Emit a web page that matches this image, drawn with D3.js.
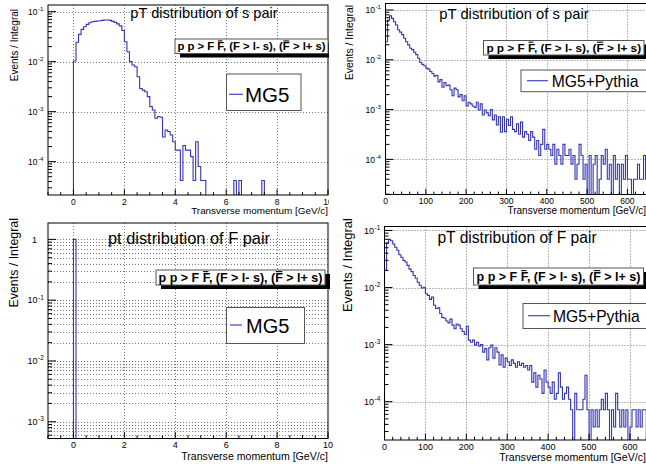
<!DOCTYPE html>
<html>
<head>
<meta charset="utf-8">
<script src="https://cdn.jsdelivr.net/npm/d3@7"></script>
<style>
body { margin: 0; background: #fff; }
text { font-family: "Liberation Sans", Arial, sans-serif; }
</style>
</head>
<body>
<div id="container"></div>
<script>
/* DATA */
// MG5, pT of s pair: bins of 0.1 GeV starting at 0
const sPairMG5 = [
  0.0103, 0.0244, 0.0352, 0.0443, 0.050, 0.0558, 0.060, 0.063, 0.064, 0.065,
  0.066, 0.067, 0.068, 0.068, 0.067, 0.064, 0.061, 0.057, 0.052, 0.042,
  0.0251, 0.0158, 0.0100, 0.0086, 0.0079, 0.0050, 0.0029, 0.0027, 0.0025, 0.0020,
  0.00126, 0.00108, 0.00074, 0.0008, 0.00077, 0.00031, 0.00043, 0.0004, 0.00034, 0.00025,
  0.00017, 0.00017, 0.000042, 0.00021, 0.00017, 0.00017, 0.000126, 0.000042, 0.00025, 0.00008,
  0.000042, 0.000042, 0, 0, 0, 0, 0, 0, 0, 0,
  0, 0, 0, 0.000042, 0, 0.000042, 0, 0, 0, 0,
  0, 0, 0, 0, 0.000042
];
// MG5, pt of F pair: one bin 0-0.1 GeV
const fPairMG5 = [1];
// MG5+Pythia, pT of s pair: bins of 5 GeV starting at 0
const sPairPythia = [
  0.023, 0.063, 0.076, 0.068, 0.058, 0.050, 0.040, 0.036, 0.032, 0.027,
  0.023, 0.0199, 0.017, 0.016, 0.0142, 0.0127, 0.0107, 0.0088, 0.0081, 0.0076,
  0.0068, 0.0065, 0.0058, 0.0053, 0.0047, 0.0049, 0.0036, 0.0040, 0.0028, 0.0035,
  0.0030, 0.0031, 0.0025, 0.0019, 0.0027, 0.0025, 0.0018, 0.0020, 0.0015, 0.0019,
  0.00118, 0.0014, 0.0013, 0.00118, 0.0011, 0.0014, 0.00098, 0.0013, 0.00078, 0.00098,
  0.00086, 0.00075, 0.001, 0.00062, 0.00078, 0.00049, 0.00072, 0.00035, 0.00072, 0.00036,
  0.00064, 0.00048, 0.00072, 0.0004, 0.00036, 0.00052, 0.00032, 0.00056, 0.00028, 0.00036,
  0.00032, 0.00024, 0.00036, 0.00028, 0.00016, 0.00024, 0.00012, 0.0002, 0.0004, 0.00016,
  0.0002, 0.00016, 0.00012, 0.0002, 0.00008, 0.00016, 0.00012, 0.00008, 0.0002, 0.00012,
  0.00012, 0.00016, 0.00008, 0.00012, 0.00004, 0.00008, 0.0002, 0.00012, 0.00004, 0.00008,
  0, 0.00012, 0, 0.00008, 0.00012, 0, 0.00004, 0.00012, 0.00008, 0.00016,
  0.00004, 0.00008, 0, 0.00012, 0.00004, 0.00008, 0, 0.00008, 0.00004, 0.00012,
  0.00004, 0.00004, 0, 0.00004, 0.00004, 0.00008, 0.00004, 0.00004, 0.00012, 0.00004
];
// MG5+Pythia, pT of F pair: bins of 5 GeV starting at 0
const fPairPythia = [
  0.02, 0.06, 0.07, 0.066, 0.058, 0.051, 0.045, 0.0376, 0.034, 0.030,
  0.028, 0.0245, 0.021, 0.019, 0.0163, 0.0146, 0.0124, 0.011, 0.0098, 0.0101,
  0.0078, 0.0073, 0.0062, 0.0068, 0.0049, 0.0043, 0.0044, 0.0035, 0.0030, 0.0029,
  0.0026, 0.0024, 0.0028, 0.0022, 0.0019, 0.0023, 0.0022, 0.0019, 0.0017, 0.0015,
  0.0021, 0.0012, 0.0011, 0.0012, 0.00098, 0.0011, 0.00094, 0.001, 0.00074, 0.00085,
  0.00054, 0.00088, 0.00098, 0.00058, 0.00088, 0.00074, 0.00044, 0.00066, 0.0004, 0.00058,
  0.0005, 0.00043, 0.00054, 0.00047, 0.0004, 0.0005, 0.00043, 0.00047, 0.0004, 0.00043,
  0.00036, 0.00043, 0.00022, 0.00032, 0.00018, 0.00029, 0.00025, 0.00014, 0.00036, 0.00022,
  0.00018, 0.00014, 0.00022, 0.00011, 0.00014, 0.00032, 0.00018, 0.00011, 0.00014, 0.00018,
  0.00011, 0.000072, 0, 0.00014, 0.000072, 0.000072, 0.000072, 0.00011, 0.00029, 0.000072,
  0, 0.000072, 0.000036, 0.000072, 0.000036, 0.000072, 0.00011, 0.000072, 0.00014, 0.000072,
  0, 0.000072, 0.000036, 0.00014, 0.000072, 0.000036, 0.000072, 0.000036, 0.000072, 0,
  0.000036, 0.000072, 0.000072, 0.000036, 0.000072, 0.000036, 0.000072, 0.000072, 0, 0.000036
];

const gevTicks = [0, 2, 4, 6, 8, 10];
const pythiaTicks = [0, 100, 200, 300, 400, 500, 600];
const paveText = "p p > F F, (F > l- s), (F > l+ s)";
const barredChars = [8, 24];
const xTitle = "Transverse momentum [GeV/c]";
const yTitle = "Events / Integral";

const blue = "#3434b4";

/* PANELS */
const panels = [
  { vals: sPairMG5, start: 0, bw: 0.1, left: 48, right: 328, top: 5, bottom: 195,
    xDom: [-1, 10], yDom: [2.15e-5, 0.136], xMajor: gevTicks, xMinor: 0.5, minorGrid: false,
    title: "pT distribution of s pair", tx: 204, ty: 18, ts: 14.6,
    xt: { x: 328, y: 214, s: 9.9 }, yt: { x: 17.5, y: 9, s: 10 }, lab: { y: 204.5, s: 8.5 },
    pave: { x: 175, y: 39, w: 153, h: 14.5, s: 11.3 },
    leg: { x: 226.5, y: 74, w: 74.5, h: 36.5, l1: 229, l2: 243, ly: 94.3, tx: 245, ty: 101.7, s: 20.5, label: "MG5" } },
  { vals: sPairPythia, start: 0, bw: 5, left: 385.5, right: 650, top: 3.5, bottom: 194.5,
    xDom: [0, 656], yDom: [1.97e-5, 0.135], xMajor: pythiaTicks, xMinor: 20, minorGrid: false,
    title: "pT distribution of s pair", tx: 514, ty: 18.5, ts: 14.8,
    xt: { x: 646, y: 213.5, s: 10 }, yt: { x: 353, y: 5, s: 10.4 }, lab: { y: 204, s: 8.5 },
    pave: { x: 483.5, y: 40.5, w: 160.5, h: 14.5, s: 11.8 },
    leg: { x: 521, y: 70, w: 130, h: 21.7, l1: 527, l2: 548, ly: 80.7, tx: 551.7, ty: 86.5, s: 15.7, label: "MG5+Pythia" },
    cover: true },
  { vals: fPairMG5, start: 0, bw: 0.1, left: 48, right: 328, top: 223, bottom: 438.5,
    xDom: [-1, 10], yDom: [5.3e-4, 1.86], xMajor: gevTicks, xMinor: 0.5, minorGrid: true,
    title: "pt distribution of F pair", tx: 189, ty: 244.3, ts: 16.4,
    xt: { x: 328, y: 460, s: 10.6 }, yt: { x: 17.5, y: 218, s: 12.4 }, lab: { y: 448, s: 9 },
    pave: { x: 156, y: 270, w: 169, h: 15, s: 12.5 },
    leg: { x: 226.5, y: 307.5, w: 78, h: 36, l1: 230, l2: 242, ly: 325, tx: 246, ty: 332.7, s: 20, label: "MG5" } },
  { vals: fPairPythia, start: 0, bw: 5, left: 384.5, right: 650, top: 226.5, bottom: 440,
    xDom: [0, 649], yDom: [2.13e-5, 0.1175], xMajor: pythiaTicks, xMinor: 20, minorGrid: false,
    title: "pT distribution of F pair", tx: 517, ty: 242.7, ts: 15.6,
    xt: { x: 646, y: 461, s: 10.6 }, yt: { x: 352, y: 218, s: 13 }, lab: { y: 450, s: 9 },
    pave: { x: 473.5, y: 268, w: 170, h: 17, s: 12.5 },
    leg: { x: 523, y: 303.5, w: 130, h: 25, l1: 528, l2: 550, ly: 315.7, tx: 553, ty: 322, s: 15.7, label: "MG5+Pythia" } }
];

const svg = d3.select("#container").append("svg")
  .attr("width", 646).attr("height", 470)
  .style("display", "block");

panels.forEach((p, pi) => {
  const g = svg.append("g");
  if (p.cover) {
    g.append("rect").attr("x", 329).attr("y", 0).attr("width", 317).attr("height", 222).attr("fill", "#fff");
  }
  const x = d3.scaleLinear().domain(p.xDom).range([p.left, p.right]);
  const y = d3.scaleLog().domain(p.yDom).range([p.bottom, p.top]);

  // log ticks
  const lo = Math.floor(Math.log10(p.yDom[0])), hi = Math.ceil(Math.log10(p.yDom[1]));
  const yTicks = [];
  for (let e = lo; e <= hi; e++) {
    for (let k = 1; k <= 9; k++) {
      const v = k * Math.pow(10, e);
      if (v >= p.yDom[0] && v <= p.yDom[1]) yTicks.push({ v, major: k === 1, e });
    }
  }
  const xMinorTicks = d3.range(p.xDom[0], p.xDom[1] + 1e-9, p.xMinor)
    .filter(v => !p.xMajor.includes(Math.round(v * 1000) / 1000));

  // grid
  const grid = g.append("g").attr("stroke", "#777").attr("stroke-dasharray", "1,2").attr("stroke-width", 1);
  grid.selectAll("line.gx").data(p.xMajor.filter(v => v > p.xDom[0] && v < p.xDom[1]))
    .join("line").attr("class", "gx")
    .attr("x1", d => Math.round(x(d)) + 0.5).attr("x2", d => Math.round(x(d)) + 0.5)
    .attr("y1", p.top).attr("y2", p.bottom);
  grid.selectAll("line.gy").data(yTicks.filter(d => p.minorGrid || d.major))
    .join("line").attr("class", "gy")
    .attr("x1", p.left).attr("x2", p.right)
    .attr("y1", d => Math.round(y(d.v)) + 0.5).attr("y2", d => Math.round(y(d.v)) + 0.5);

  // histogram
  const clipId = "clip" + pi;
  g.append("clipPath").attr("id", clipId).append("rect")
    .attr("x", p.left).attr("y", p.top).attr("width", p.right - p.left).attr("height", p.bottom - p.top);
  const yy = v => (v > p.yDom[0] ? y(v) : p.bottom + 2);
  let d = `M${x(p.start)},${p.bottom + 2}`;
  p.vals.forEach((v, i) => {
    d += `V${yy(v)}H${x(p.start + (i + 1) * p.bw)}`;
  });
  d += `V${p.bottom + 2}`;
  g.append("path").attr("d", d).attr("fill", "none").attr("stroke", blue)
    .attr("stroke-width", 1.1).attr("clip-path", `url(#${clipId})`);

  // frame
  g.append("rect").attr("x", p.left).attr("y", p.top)
    .attr("width", p.right - p.left).attr("height", p.bottom - p.top)
    .attr("fill", "none").attr("stroke", "#000").attr("stroke-width", 1);

  // ticks
  const tk = g.append("g").attr("stroke", "#000").attr("stroke-width", 1);
  const xMajLen = (p.bottom - p.top) * 0.03;
  tk.selectAll("line.tx").data(p.xMajor.filter(v => v >= p.xDom[0] && v <= p.xDom[1]).map(v => ({ v, m: true }))
      .concat(xMinorTicks.map(v => ({ v, m: false }))))
    .join("line").attr("class", "tx")
    .attr("x1", d => x(d.v)).attr("x2", d => x(d.v))
    .attr("y1", p.bottom).attr("y2", d => p.bottom - (d.m ? xMajLen : xMajLen / 2));
  tk.selectAll("line.ty").data(yTicks).join("line").attr("class", "ty")
    .attr("y1", d => y(d.v)).attr("y2", d => y(d.v))
    .attr("x1", p.left).attr("x2", d => p.left + (d.major ? 8 : 4));

  // x labels
  g.selectAll("text.lx").data(p.xMajor).join("text").attr("class", "lx")
    .attr("x", d => x(d)).attr("y", p.lab.y).attr("text-anchor", "middle")
    .attr("font-size", p.lab.s).text(d => d);
  // y labels
  yTicks.filter(t => t.major).forEach(t => {
    const yp = y(t.v);
    if (t.e === 0) {
      g.append("text").attr("x", p.left - 11).attr("y", yp + 3.2).attr("text-anchor", "end")
        .attr("font-size", p.lab.s).text("1");
    } else {
      g.append("text").attr("x", p.left - 10.5).attr("y", yp + 3.2).attr("text-anchor", "end")
        .attr("font-size", p.lab.s).text("10");
      g.append("text").attr("x", p.left - 10).attr("y", yp - 0.5).attr("text-anchor", "start")
        .attr("font-size", p.lab.s * 0.72).text(String(t.e));
    }
  });

  // axis titles
  g.append("text").attr("x", p.xt.x).attr("y", p.xt.y).attr("text-anchor", "end")
    .attr("font-size", p.xt.s).text(xTitle);
  g.append("text").attr("transform", `translate(${p.yt.x},${p.yt.y}) rotate(-90)`)
    .attr("text-anchor", "end").attr("font-size", p.yt.s).text(yTitle);

  // title
  g.append("text").attr("x", p.tx).attr("y", p.ty).attr("text-anchor", "middle")
    .attr("font-size", p.ts).text(p.title);

  // process text box with shadow
  const pv = p.pave;
  g.append("rect").attr("x", pv.x + 5).attr("y", pv.y + 4).attr("width", pv.w).attr("height", pv.h).attr("fill", "#000");
  g.append("rect").attr("x", pv.x).attr("y", pv.y).attr("width", pv.w).attr("height", pv.h)
    .attr("fill", "#fff").attr("stroke", "#555").attr("stroke-width", 1);
  const pt = g.append("text").attr("x", pv.x + pv.w / 2).attr("y", pv.y + pv.h / 2 + pv.s * 0.36)
    .attr("text-anchor", "middle").attr("font-size", pv.s).attr("font-weight", "bold").text(paveText);
  barredChars.forEach(ci => {
    const b = pt.node().getExtentOfChar(ci);
    g.append("line").attr("x1", b.x + 0.5).attr("x2", b.x + b.width - 0.5)
      .attr("y1", pv.y + pv.h / 2 + pv.s * 0.36 - pv.s * 0.83).attr("y2", pv.y + pv.h / 2 + pv.s * 0.36 - pv.s * 0.83)
      .attr("stroke", "#000").attr("stroke-width", 1.1);
  });

  // legend
  const lg = p.leg;
  g.append("rect").attr("x", lg.x).attr("y", lg.y).attr("width", lg.w).attr("height", lg.h)
    .attr("fill", "#fff").attr("stroke", "#555").attr("stroke-width", 1);
  g.append("line").attr("x1", lg.l1).attr("x2", lg.l2).attr("y1", lg.ly).attr("y2", lg.ly)
    .attr("stroke", blue).attr("stroke-width", 1.1);
  g.append("text").attr("x", lg.tx).attr("y", lg.ty).attr("font-size", lg.s).text(lg.label);
});
</script>
</body>
</html>
